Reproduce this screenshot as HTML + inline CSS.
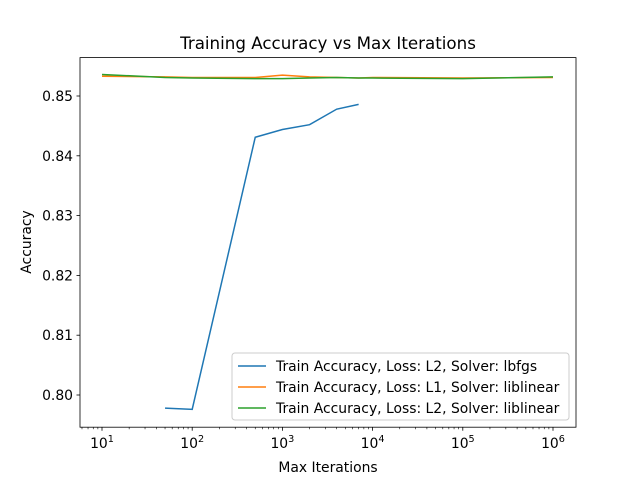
<!DOCTYPE html>
<html><head><meta charset="utf-8"><style>
body{margin:0;background:#fff;}
svg text{font-family:"DejaVu Sans","Liberation Sans",sans-serif;fill:#000;}
</style></head><body>
<svg id="chart" width="640" height="480" xmlns="http://www.w3.org/2000/svg">
<rect width="640" height="480" fill="#fff"/>
<text x="328" y="49" font-size="16.7" text-anchor="middle">Training Accuracy vs Max Iterations</text>
<g id="grid"></g>
<g id="series"></g>
<rect x="80" y="57.6" width="496" height="369.6" fill="none" stroke="#000" stroke-width="0.8"/>
<g id="axes"></g>
<text x="328" y="472" font-size="13.9" text-anchor="middle">Max Iterations</text>
<text x="31" y="242" font-size="13.9" text-anchor="middle" transform="rotate(-90 31 242)">Accuracy</text>
<g id="legend"></g>
</svg>
<script>
const lbfgsIters=[50,100,500,1000,2000,4000,7000];
const lbfgsAcc=[0.7978,0.7976,0.8431,0.8444,0.8452,0.8478,0.8486];
const libIters=[10,50,100,500,1000,2000,4000,7000,10000,100000,1000000];
const l1Acc=[0.8533,0.8532,0.8531,0.8531,0.8535,0.8532,0.8531,0.8530,0.8531,0.8530,0.8531];
const l2Acc=[0.8536,0.8531,0.8530,0.8529,0.8529,0.8530,0.8531,0.8530,0.8530,0.8529,0.8532];
const yTicks=[0.80,0.81,0.82,0.83,0.84,0.85];
const xTickExps=[1,2,3,4,5,6];
const legendLabels=["Train Accuracy, Loss: L2, Solver: lbfgs","Train Accuracy, Loss: L1, Solver: liblinear","Train Accuracy, Loss: L2, Solver: liblinear"];
const colors=["#1f77b4","#ff7f0e","#2ca02c"];
const NS="http://www.w3.org/2000/svg";
function X(v){return 102+(Math.log10(v)-1)*90.2;}
function Y(v){return 96+(0.85-v)*5980;}
function mk(t,a,p){const e=document.createElementNS(NS,t);for(const k in a)e.setAttribute(k,a[k]);(p||document.getElementById('axes')).appendChild(e);return e;}
yTicks.forEach(v=>{
  const l=mk('line',{x1:76.5,x2:80,y1:Y(v),y2:Y(v),stroke:'#000','stroke-width':0.8});
  
  
  const t=mk('text',{x:73,y:Y(v)+5,'font-size':13.9,'text-anchor':'end'});
  t.textContent=v.toFixed(2);
  
  
});
for(let e=0;e<=6;e++){for(let m=2;m<10;m++){const v=m*Math.pow(10,e);const x=X(v);if(x<80||x>576)continue;
  const l=mk('line',{x1:x,x2:x,y1:427.2,y2:429.2,stroke:'#000','stroke-width':0.6});
  
  }}
xTickExps.forEach(e=>{const x=X(Math.pow(10,e));
  const l=mk('line',{x1:x,x2:x,y1:427.2,y2:430.7,stroke:'#000','stroke-width':0.8});
  
  
  const t=mk('text',{x:x,y:448,'font-size':13.9,'text-anchor':'middle'});
  t.innerHTML='10<tspan dy="-6" font-size="9.7">'+e+'</tspan>';
  
  
});
const ser=document.getElementById('series');
[[lbfgsIters,lbfgsAcc],[libIters,l1Acc],[libIters,l2Acc]].forEach((s,i)=>{
  const pts=s[0].map((x,j)=>X(x).toFixed(2)+','+Y(s[1][j]).toFixed(2)).join(' ');
  const p=mk('polyline',{points:pts,fill:'none',stroke:colors[i],'stroke-width':1.5},ser);
  
  
});
const lg=document.getElementById('legend');
const box=mk('rect',{x:232,y:353,width:337,height:67,rx:3,fill:'#fff','fill-opacity':0.8,stroke:'#ccc'},lg);


legendLabels.forEach((s,i)=>{const y=366+i*21;
  const l=mk('line',{x1:238,x2:266,y1:y,y2:y,stroke:colors[i],'stroke-width':1.5},lg);
  
  
  const t=mk('text',{x:276,y:y+5,'font-size':13.9},lg);t.textContent=s;
  
  
});
</script>
</body></html>
